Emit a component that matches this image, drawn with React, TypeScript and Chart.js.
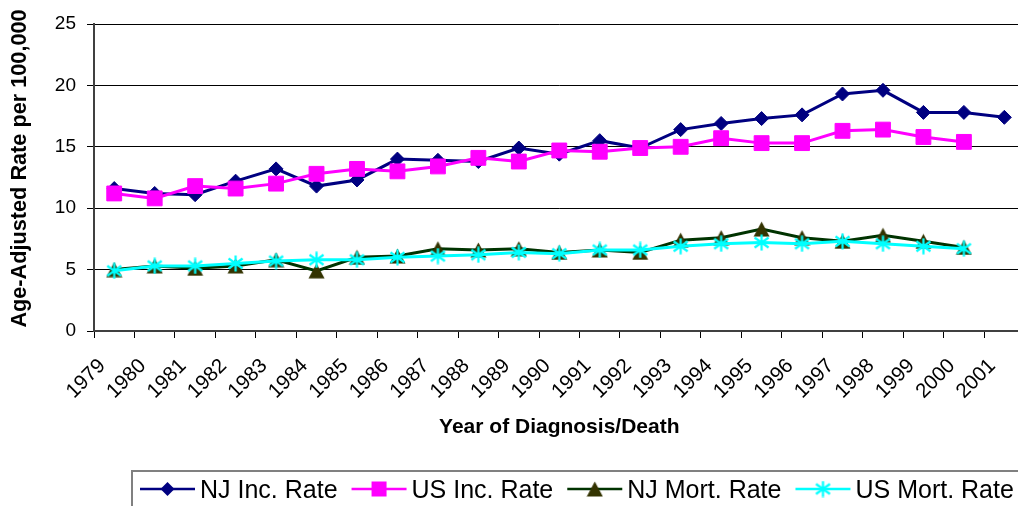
import React, { useEffect, useRef } from 'react';
import { Chart, registerables } from 'chart.js';

Chart.register(...registerables);

const FONT = '"Liberation Sans", Arial, sans-serif';

const years = ['1979', '1980', '1981', '1982', '1983', '1984', '1985', '1986', '1987', '1988', '1989', '1990',
  '1991', '1992', '1993', '1994', '1995', '1996', '1997', '1998', '1999', '2000', '2001'];

const njInc = [11.6, 11.2, 11.1, 12.2, 13.2, 11.8, 12.3, 14.0, 13.9, 13.8, 14.9, 14.4,
  15.5, 14.9, 16.4, 16.9, 17.3, 17.6, 19.3, 19.6, 17.8, 17.8, 17.4];
const usInc = [11.2, 10.8, 11.8, 11.6, 12.0, 12.8, 13.2, 13.0, 13.4, 14.1, 13.8, 14.7,
  14.6, 14.9, 15.0, 15.7, 15.3, 15.3, 16.3, 16.4, 15.8, 15.4, null];
const njMort = [5.0, 5.3, 5.1, 5.3, 5.8, 4.9, 6.0, 6.1, 6.7, 6.6, 6.7, 6.4,
  6.6, 6.4, 7.4, 7.6, 8.3, 7.6, 7.3, 7.8, 7.3, 6.8, null];
const usMort = [4.9, 5.3, 5.3, 5.5, 5.7, 5.8, 5.8, 6.0, 6.1, 6.2, 6.4, 6.3,
  6.6, 6.6, 6.9, 7.1, 7.2, 7.1, 7.3, 7.1, 6.9, 6.7, null];

const seriesLabels = ['NJ Inc. Rate', 'US Inc. Rate', 'NJ Mort. Rate', 'US Mort. Rate'];
const yTicks = [0, 5, 10, 15, 20, 25];
const xTitle = 'Year of Diagnosis/Death';
const yTitle = 'Age-Adjusted Rate per 100,000';

function makeTriangle(color: string) {
  const c = document.createElement('canvas');
  c.width = 17; c.height = 16;
  const g = c.getContext('2d')!;
  g.fillStyle = color;
  g.beginPath();
  g.moveTo(8.5, 0.5);
  g.lineTo(16.5, 15.5);
  g.lineTo(0.5, 15.5);
  g.closePath();
  g.fill();
  return c;
}

function makeStar(color: string) {
  const c = document.createElement('canvas');
  c.width = 17; c.height = 17;
  const g = c.getContext('2d')!;
  g.strokeStyle = color;
  g.lineWidth = 2.2;
  g.lineCap = 'butt';
  g.beginPath();
  g.moveTo(8.5, 0.5); g.lineTo(8.5, 16.5);
  g.moveTo(1.5, 3.5); g.lineTo(15.5, 13.5);
  g.moveTo(15.5, 3.5); g.lineTo(1.5, 13.5);
  g.stroke();
  return c;
}

function drawMarker(ctx: CanvasRenderingContext2D, style: any, color: string, x: number, y: number) {
  ctx.save();
  ctx.fillStyle = color;
  if (style === 'rectRot') {
    ctx.beginPath();
    ctx.moveTo(x, y - 7);
    ctx.lineTo(x + 7, y);
    ctx.lineTo(x, y + 7);
    ctx.lineTo(x - 7, y);
    ctx.closePath();
    ctx.fill();
  } else if (style === 'rect') {
    ctx.fillRect(x - 7.5, y - 7.5, 15, 15);
  } else if (style && typeof style === 'object') {
    ctx.drawImage(style, x - style.width / 2, y - style.height / 2);
  }
  ctx.restore();
}

const boxLegend = {
  id: 'boxLegend',
  afterDraw(chart: any) {
    const ctx: CanvasRenderingContext2D = chart.ctx;
    ctx.save();
    // y-axis title
    const area = chart.chartArea;
    ctx.save();
    ctx.translate(20.5, (area.top + area.bottom) / 2 - 9);
    ctx.rotate(-Math.PI / 2);
    ctx.font = `bold 21.7px ${FONT}`;
    ctx.fillStyle = '#000';
    ctx.textAlign = 'center';
    ctx.textBaseline = 'middle';
    ctx.fillText(yTitle, 0, 0);
    ctx.restore();

    // legend box
    ctx.strokeStyle = '#808080';
    ctx.lineWidth = 2;
    ctx.strokeRect(132, 471, 1000, 60);
    ctx.font = `25px ${FONT}`;
    ctx.textBaseline = 'alphabetic';
    ctx.textAlign = 'left';
    let x = 140;
    const y = 489;
    chart.data.datasets.forEach((ds: any) => {
      ctx.strokeStyle = ds.borderColor;
      ctx.lineWidth = 2.5;
      ctx.beginPath();
      ctx.moveTo(x, y);
      ctx.lineTo(x + 55, y);
      ctx.stroke();
      drawMarker(ctx, ds.pointStyle, ds.pointBackgroundColor, x + 27.5, y);
      ctx.fillStyle = '#000';
      ctx.fillText(ds.label, x + 60, 498);
      x += 60 + ctx.measureText(ds.label).width + 14;
    });
    ctx.restore();
  },
};

export default function App() {
  const ref = useRef<HTMLCanvasElement>(null);

  useEffect(() => {
    if (!ref.current) return;
    const tri = makeTriangle('#333300');
    const star = makeStar('#00FFFF');
    const chart = new Chart(ref.current, {
      type: 'line',
      data: {
        labels: years,
        datasets: [
          {
            label: seriesLabels[0], data: njInc, borderColor: '#000080', backgroundColor: '#000080',
            pointBackgroundColor: '#000080', pointBorderColor: '#000080', pointStyle: 'rectRot',
            pointRadius: 7, pointBorderWidth: 1, borderWidth: 3, tension: 0, order: 3,
          },
          {
            label: seriesLabels[1], data: usInc, borderColor: '#FF00FF', backgroundColor: '#FF00FF',
            pointBackgroundColor: '#FF00FF', pointBorderColor: '#FF00FF', pointStyle: 'rect',
            pointRadius: 10.5, pointBorderWidth: 1, borderWidth: 3, tension: 0, order: 2,
          },
          {
            label: seriesLabels[2], data: njMort, borderColor: '#003300', backgroundColor: '#333300',
            pointBackgroundColor: '#333300', pointBorderColor: '#333300', pointStyle: tri as any,
            pointRadius: 8, borderWidth: 3, tension: 0, order: 1,
          },
          {
            label: seriesLabels[3], data: usMort, borderColor: '#00FFFF', backgroundColor: '#00FFFF',
            pointBackgroundColor: '#00FFFF', pointBorderColor: '#00FFFF', pointStyle: star as any,
            pointRadius: 8, borderWidth: 3, tension: 0, order: 0,
          },
        ],
      },
      options: {
        animation: false,
        responsive: false,
        devicePixelRatio: 1,
        layout: { padding: { left: 0, top: 24, right: 7, bottom: 65 } },
        plugins: { legend: { display: false }, tooltip: { enabled: false } },
        scales: {
          x: {
            type: 'category',
            offset: true,
            grid: { offset: true, drawOnChartArea: false, drawTicks: true, tickLength: 7, color: '#000', lineWidth: 1 },
            border: { display: true, color: '#404040', width: 2 },
            ticks: {
              autoSkip: false, maxRotation: 45, minRotation: 45, font: { size: 20.5, family: FONT }, color: '#000',
              padding: 16, labelOffset: -12,
            },
            title: { display: true, text: xTitle, font: { size: 21, weight: 'bold', family: FONT }, color: '#000', padding: { top: 0, bottom: 1 } },
            afterFit: (s: any) => { s.height = 110; },
          },
          y: {
            min: 0, max: 25,
            afterBuildTicks: (s: any) => { s.ticks = yTicks.map((v) => ({ value: v })); },
            grid: { color: '#000', lineWidth: 1, tickLength: 7, drawTicks: true },
            border: { display: true, color: '#404040', width: 2 },
            ticks: { font: { size: 19, family: FONT }, color: '#000', padding: 11 },
            title: { display: false, text: yTitle },
            afterFit: (s: any) => { s.width = 94; },
          },
        },
      },
      plugins: [boxLegend],
    });
    return () => chart.destroy();
  }, []);

  return (
    <div style={{ position: 'fixed', left: 0, top: 0, width: 1018, height: 506, overflow: 'hidden', background: '#fff' }}>
      <canvas ref={ref} width={1038} height={506} style={{ display: 'block', width: 1038, height: 506 }} />
    </div>
  );
}
